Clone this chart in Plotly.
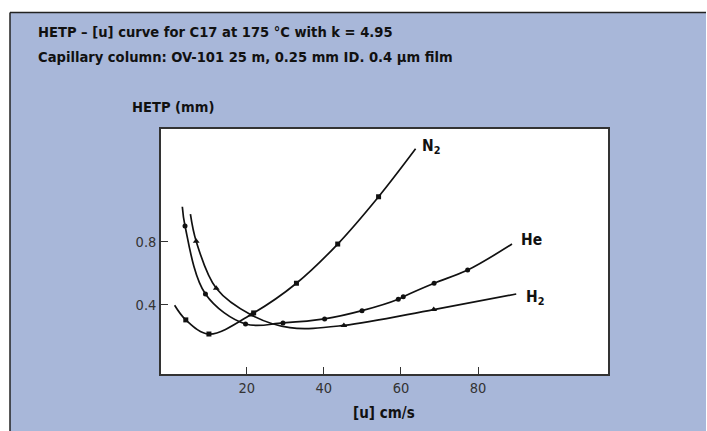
import plotly.graph_objects as go

# ---------------- data ----------------
n2_u    = [1.3, 4.2, 10.2, 21.8, 32.9, 43.6, 54.2, 63.8]
n2_hetp = [0.398, 0.306, 0.217, 0.350, 0.537, 0.784, 1.082, 1.384]
n2_mark = [False, True, True, True, True, True, True, False]

he_u    = [3.3, 4.0, 9.3, 19.7, 29.4, 40.2, 49.9, 59.3, 60.6, 68.6, 77.3, 88.8]
he_hetp = [1.019, 0.898, 0.469, 0.280, 0.287, 0.312, 0.364, 0.436, 0.452, 0.537, 0.620, 0.784]
he_mark = [False, True, True, True, True, True, True, True, True, True, True, False]

h2_u    = [5.4, 6.9, 12.1, 21.2, 31.2, 45.2, 68.5, 89.9]
h2_hetp = [0.972, 0.801, 0.505, 0.337, 0.257, 0.271, 0.371, 0.469]
h2_mark = [False, True, True, True, False, True, True, False]

x_ticks = [20, 40, 60, 80]
y_ticks = [0.4, 0.8]

title1 = "HETP – [u] curve for C17 at 175 °C with k = 4.95"
title2 = "Capillary column: OV-101 25 m, 0.25 mm ID. 0.4 µm film"
y_title = "HETP (mm)"
x_title = "[u] cm/s"

# ---------------- layout geometry ----------------
W, H = 707, 431
L, R, T, B = 161, 608, 129, 374
BLUE = "#A8B7D9"
FONT = "DejaVu Sans Condensed, Liberation Sans Narrow, Arial Narrow, sans-serif"


def px(x):
    return (x - L) / (R - L)


def py(y):
    return (B - y) / (B - T)


fig = go.Figure()


def add_curve(u, h, mark, symbol, size):
    fig.add_trace(go.Scatter(
        x=u, y=h, mode="lines", line=dict(color="#111", width=1.7, shape="spline", smoothing=1.0),
        hoverinfo="skip", showlegend=False))
    mu = [a for a, m in zip(u, mark) if m]
    mh = [b for b, m in zip(h, mark) if m]
    fig.add_trace(go.Scatter(
        x=mu, y=mh, mode="markers",
        marker=dict(symbol=symbol, size=size, color="#111"),
        showlegend=False))


add_curve(n2_u, n2_hetp, n2_mark, "square", 5)
add_curve(he_u, he_hetp, he_mark, "circle", 5)
add_curve(h2_u, h2_hetp, h2_mark, "triangle-up", 6)

ann = []
ann.append(dict(text="<b>%s</b>" % title1, x=px(36), y=py(31.5), xanchor="left", yanchor="middle",
                font=dict(size=14.6, color="#111", family=FONT)))
ann.append(dict(text="<b>%s</b>" % title2, x=px(36), y=py(56), xanchor="left", yanchor="middle",
                font=dict(size=14.6, color="#111", family=FONT)))
ann.append(dict(text="<b>%s</b>" % y_title, x=px(130), y=py(106.5), xanchor="left", yanchor="middle",
                font=dict(size=14.6, color="#111", family=FONT)))
ann.append(dict(text="<b>%s</b>" % x_title, x=px(384), y=py(412.5), xanchor="center", yanchor="middle",
                font=dict(size=15, color="#111", family=FONT)))
ann.append(dict(text="<b>N<sub>2</sub></b>", x=px(420), y=py(147), xanchor="left", yanchor="middle",
                font=dict(size=15.5, color="#111", family=FONT)))
ann.append(dict(text="<b>He</b>", x=px(519), y=py(239.5), xanchor="left", yanchor="middle",
                font=dict(size=15.5, color="#111", family=FONT)))
ann.append(dict(text="<b>H<sub>2</sub></b>", x=px(524), y=py(297.5), xanchor="left", yanchor="middle",
                font=dict(size=15.5, color="#111", family=FONT)))
for a in ann:
    a.update(xref="paper", yref="paper", showarrow=False)

shapes = [
    dict(type="rect", x0=px(0), x1=px(W), y0=py(0), y1=py(12), fillcolor="white", line=dict(width=0)),
    dict(type="rect", x0=px(0), x1=px(10), y0=py(0), y1=py(H), fillcolor="white", line=dict(width=0)),
    dict(type="rect", x0=px(706), x1=px(W), y0=py(0), y1=py(H), fillcolor="white", line=dict(width=0)),
    dict(type="line", x0=px(10), x1=px(706), y0=py(12.5), y1=py(12.5), line=dict(color="#222", width=1.5)),
    dict(type="line", x0=px(10), x1=px(10), y0=py(12.5), y1=py(H), line=dict(color="#222", width=1.5)),
]
for s in shapes:
    s.update(xref="paper", yref="paper", layer="above")

axis_common = dict(showgrid=False, zeroline=False, showline=True, mirror=True,
                   linecolor="#333", linewidth=1.5, ticks="inside", ticklen=7,
                   tickcolor="#333", tickwidth=1.2,
                   tickfont=dict(size=14.5, color="#333", family=FONT))

fig.update_layout(
    width=W, height=H,
    margin=dict(l=L, r=W - R, t=T, b=H - B, pad=0),
    paper_bgcolor=BLUE, plot_bgcolor="white",
    xaxis=dict(range=[-2.23, 113.7], tickvals=x_ticks, ticktext=[str(v) for v in x_ticks], **axis_common),
    yaxis=dict(range=[-0.035, 1.509], tickvals=y_ticks, ticktext=["0.4", "0.8"], **axis_common),
    annotations=ann, shapes=shapes,
)

fig.write_html("out.html")
